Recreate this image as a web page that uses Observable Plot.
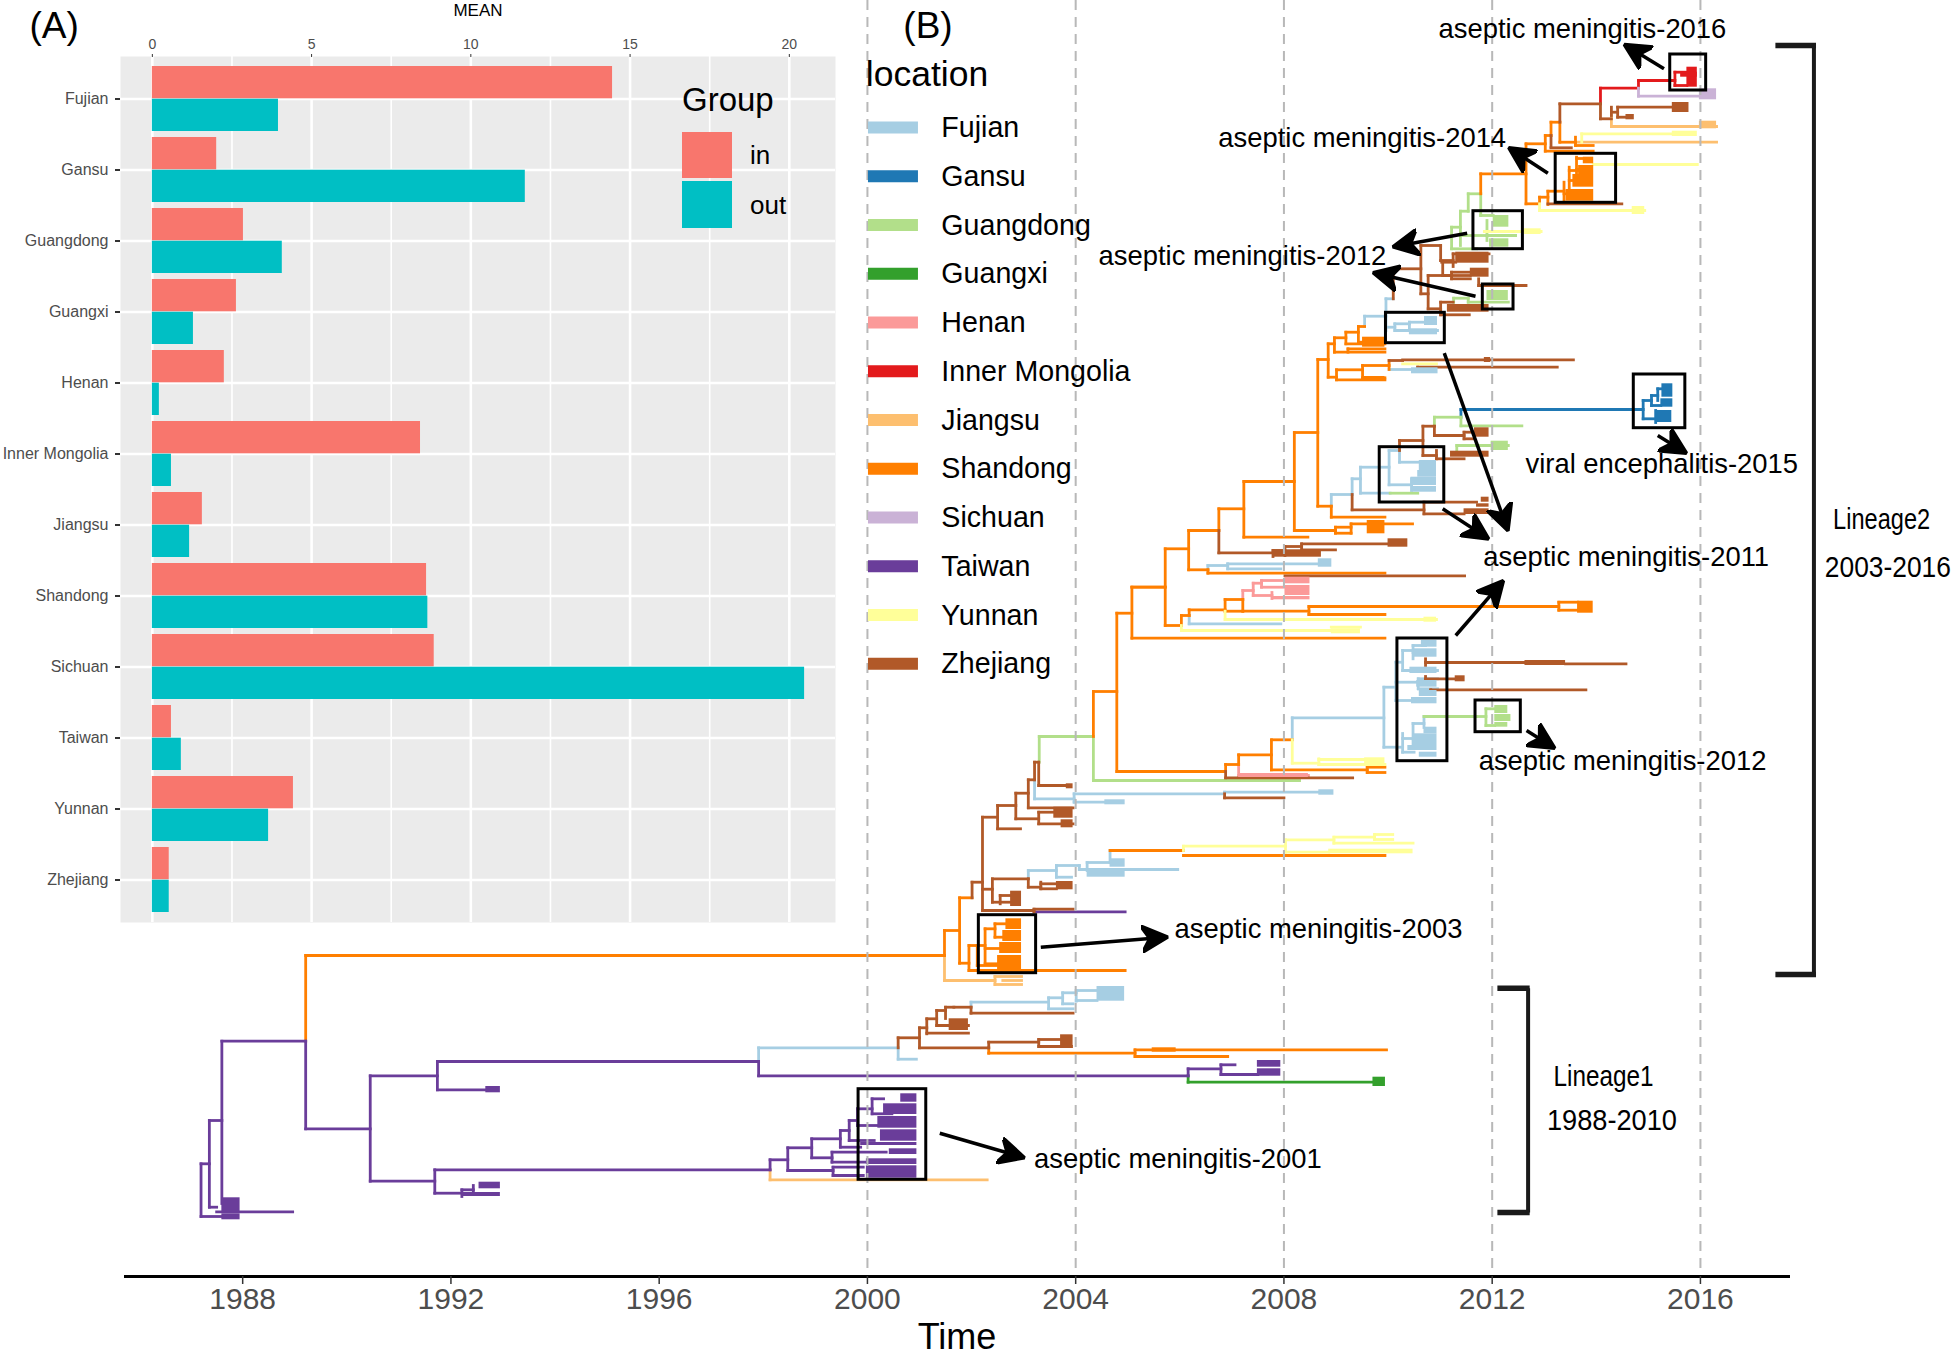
<!DOCTYPE html>
<html><head><meta charset="utf-8">
<script src="https://cdn.jsdelivr.net/npm/d3@7"></script>
<script src="https://cdn.jsdelivr.net/npm/@observablehq/plot@0.6"></script>
<style>
html,body{margin:0;padding:0;background:#fff;font-family:"Liberation Sans",Arial,sans-serif}
#wrap{position:relative;width:1960px;height:1360px;overflow:hidden}
#wrap svg{position:absolute;left:0;top:0;background:transparent}
.lg{position:absolute;color:#000}
</style></head><body><div id="wrap"></div>
<script>
// ---------- panel A values ----------
const locations=["Fujian","Gansu","Guangdong","Guangxi","Henan","Inner Mongolia","Jiangsu","Shandong","Sichuan","Taiwan","Yunnan","Zhejiang"];
const meanIn=[14.45,2.02,2.86,2.64,2.26,8.42,1.57,8.61,8.85,0.6,4.43,0.53];
const meanOut=[3.96,11.71,4.08,1.29,0.22,0.6,1.17,8.65,20.48,0.91,3.65,0.53];
const locationColors=["#A6CEE3","#1F78B4","#B2DF8A","#33A02C","#FB9A99","#E31A1C","#FDBF6F","#FF7F00","#CAB2D6","#6A3D9A","#FFFF99","#B15928"];
const axisYears=[1988,1992,1996,2000,2004,2008,2012,2016];
const gridYears=[2000,2004,2008,2012,2016];

// ---------- tree branches: H=[from,to,row], V=[year,row,row], B=[from,to,row,row] (dense tip bundles) ----------
const fujianH=[[1997.91,2000.59,104.73],[2000.59,2000.94,105.87],[2001.99,2003.48,100.17],[2003.48,2003.95,100.83],[2003.48,2003.75,99.73],[2003.75,2004.01,99.23],[2003.75,2003.95,100.33],[2004.01,2004.41,99],[2004.01,2004.41,100],
[2003.09,2003.63,87],[2003.63,2003.92,87.67],[2003.63,2004.07,86.5],[2004.07,2005.96,86.9],[2004.22,2004.66,86.2],
[2003.21,2003.97,79.83],[2003.97,2006.86,79.33],[2006.86,2008.67,79.17],[2003.97,2004.56,80.17],
[2008.16,2009.92,71.73],[2009.92,2010.28,74.67],[2009.92,2010.15,68.67],[2010.15,2010.48,70],[2010.15,2010.58,68.17],[2010.58,2010.95,67.83],[2010.58,2010.95,68.83],[2010.15,2010.28,66.17],[2010.28,2010.95,67],[2010.28,2010.48,65],[2010.48,2010.72,64.5],[2010.48,2010.72,65.2],[2010.28,2010.5,75.17],[2010.28,2010.48,73.8],[2010.48,2010.67,73.83],[2010.48,2010.69,72.3],
[2006.54,2006.92,56.5],[2006.92,2008.66,56.33],[2006.92,2007.94,56.83],[2006.18,2007.94,62.33],[2010.02,2010.45,36.9],
[2008.91,2009.31,49.4],[2009.31,2009.47,47.83],[2009.47,2010.04,49.27],[2009.47,2010.02,46.67],[2010.02,2010.45,48.43],[2010.02,2010.22,45],[2010.22,2010.69,46.17],
[2009.55,2009.96,31.57],[2009.96,2010.1,29.83],[2009.96,2010.13,32.67],[2010.13,2010.95,33],[2010.13,2010.41,32.33],[2010.41,2010.7,32.17]];
const fujianV=[[1997.91,104.73,106.1],[2000.59,104.73,105.87],[2001.99,100.17,100.67],[2003.48,99.73,100.83],[2003.75,99.23,100.33],[2004.01,99,100.07],
[2003.09,87,87.83],[2003.63,86.5,87.67],[2004.07,86.5,86.9],[2004.22,86.2,87],[2004.66,85,86.2],[2003.21,77.93,79.83],[2003.97,79.33,80.17],[2006.86,79.17,79.33],
[2008.16,71.73,73.93],[2009.92,68.67,74.67],[2010.15,66.17,70],[2010.58,67.83,68.83],[2010.28,65,67],[2010.48,64.5,65.83],[2010.28,73.3,75.17],[2010.48,72.3,74.67],[2010.69,71.6,72.7],
[2006.54,56.5,56.93],[2006.92,56.33,56.83],[2006.18,61.5,62.33],[2008.91,49.4,50.57],[2009.31,47.83,49.4],[2009.47,46.67,49.27],[2010.02,45,48.43],[2010.45,47.83,49],[2010.22,45,46.17],
[2009.55,31.57,32.6],[2009.96,29.83,33],[2010.13,32.33,33],[2010.41,32.17,33]];
const fujianB=[[2004.41,2004.94,98.6,100.07],[2004.22,2004.95,86.83,87.67],[2004.66,2004.95,85.83,86.67],[2008.67,2008.96,78.93,79.47],[2004.56,2004.95,79.93,80.43],
[2010.64,2010.94,64,64.67],[2010.5,2010.94,64.83,65.67],[2010.42,2010.94,66.67,67.3],[2010.55,2010.94,68,68.67],[2010.6,2010.94,69,69.6],[2010.45,2010.94,69.7,70.33],
[2010.69,2010.94,72.67,73.33],[2010.48,2010.94,73.33,74.5],[2010.38,2010.94,74.5,75],[2010.6,2010.94,75.17,75.67],
[2008.66,2008.92,55.83,56.67],[2010.45,2010.96,36.73,37.33],[2010.6,2010.93,46,47],[2010.57,2010.93,47,47.67],[2010.44,2010.93,47.67,48.5],[2010.47,2010.93,48.6,49.17],[2010.7,2010.95,31.6,32.5],[2010.41,2010.95,32.83,33.43]];

const gansuH=[[2011.4,2014.9,40.9],[2014.9,2015.06,40],[2014.9,2015.14,41.83],[2015.06,2015.18,39.5],[2015.06,2015.24,40.5],[2015.18,2015.26,38.83]];
const gansuV=[[2011.4,40.9,41.67],[2014.9,40,41.83],[2015.06,39.5,40.5],[2015.18,38.83,40],[2015.14,41,42.2]];
const gansuB=[[2015.26,2015.47,38.33,39.67],[2015.24,2015.47,39.83,40.67],[2015.14,2015.45,41,42.2]];

const guangdongH=[[2003.3,2004.34,73.6],[2004.34,2008.3,78],[2010.69,2011.7,71.6],[2011.7,2011.88,71.6],[2011.88,2012.05,70.83],[2011.88,2012.05,72.5],[2010.89,2011.4,41.67],[2011.4,2012.57,42.53],[2011.32,2012.31,44.5],[2010.04,2010.57,49.27],
[2011.54,2011.78,19.33],[2011.39,2011.54,21.07],[2011.22,2011.39,22.67],[2011.22,2011.7,24.83],[2011.78,2012.02,21.5],[2011.39,2011.9,23.5],[2011.9,2012.45,23.5],[2011.26,2011.54,29.77],[2011.54,2012.31,30.17]];
const guangdongV=[[2003.3,73.6,76.17],[2004.34,73.6,78],[2011.88,70.83,72.5],[2010.89,41.67,42.57],[2011.4,41.67,42.53],[2011.32,44.5,45],[2011.78,19.33,21.5],[2011.54,19.33,21.07],[2011.39,21.07,24.5],[2011.22,22.67,24.83],[2011.9,22,24],[2011.26,29.77,30.17],[2011.54,29.77,30.17]];
const guangdongB=[[2012.05,2012.3,70.5,71.3],[2012.05,2012.36,71.4,72.1],[2012.05,2012.3,72.2,72.67],[2011.98,2012.31,44.07,45],[2012.02,2012.32,21.5,22.67],[2011.95,2012.32,23.83,24.67],[2011.9,2012.31,29,30]];

const guangxiH=[[2006.16,2009.77,108.17]];
const guangxiV=[[2006.16,107.53,108.17]];
const guangxiB=[[2009.71,2009.95,107.67,108.6]];

const henanH=[[2007.21,2007.41,59],[2007.41,2007.57,58.27],[2007.41,2007.77,59.5],[2007.57,2008.02,58],[2007.57,2008.02,58.67],[2007.13,2008.47,77.5]];
const henanV=[[2007.13,76.4,77.5],[2007.21,59,59.9],[2007.41,58.27,59.5],[2007.57,58,58.67],[2007.77,59.2,59.8]];
const henanB=[[2008.02,2008.5,57.67,58.33],[2008.02,2008.5,58.5,59.5],[2007.77,2008.5,59.6,59.93],[2007.13,2008.47,77.3,77.7]];

const mongoliaH=[[2014.08,2014.81,8.77],[2014.81,2015.51,8],[2015.51,2015.74,7.17],[2015.51,2015.74,8.5]];
const mongoliaV=[[2014.08,8.77,10.33],[2014.81,8,8.77],[2015.51,7.17,8.5]];
const mongoliaB=[[2015.74,2015.94,6.67,8.67],[2015.62,2015.94,7.17,7.67]];

const jiangsuH=[[1998.13,2002.3,117.93],[2001.48,2002.45,98],[2002.45,2002.96,97.6],[2002.45,2002.96,98.4],[2002.6,2002.96,98],[2014.29,2016.31,12.6],[2013.6,2016.31,14.17]];
const jiangsuV=[[1998.13,116.93,117.93],[2001.48,95.5,98],[2002.45,97.6,98.4],[2014.29,11.5,12.6]];
const jiangsuB=[[2015.98,2016.31,12.07,12.83]];

const shandongH=[[1989.21,2001.48,95.5],[2001.48,2001.77,93],[2001.77,2002.01,89.73],[2001.77,2001.95,96.27],[2001.95,2004.95,97],[2001.95,2002.11,94.5],[2002.11,2002.26,94.5],[2002.26,2002.45,92.83],[2002.45,2002.7,92.33],[2002.26,2002.55,96.33],[2002.45,2002.65,93.67],[2002.26,2002.6,94.8],[2002.11,2002.55,96.5],
[2002.33,2005.14,105.27],[2005.14,2009.97,104.93],[2005.14,2006.92,105.6],[2004.34,2004.79,69.1],[2004.79,2006.88,77.1],[2004.79,2005.08,61.27],[2005.08,2009.94,63.77],[2005.08,2005.72,58.67],[2005.72,2006.03,62.5],[2006.03,2006.18,61.5],[2006.18,2006.87,60.93],[2006.87,2007.21,59.9],[2006.87,2007.21,61.07],[2007.21,2008.48,61.07],[2008.48,2013.28,60.6],[2008.48,2009.94,61.4],[2013.28,2013.64,60.17],[2013.28,2013.64,60.97],
[2005.72,2006.17,54.83],[2006.17,2006.54,56.93],[2006.54,2009.94,57.27],[2006.17,2006.75,53],[2006.75,2007.23,50.83],[2007.23,2008.46,53.67],[2007.23,2008.2,48.1],[2008.2,2008.99,53],[2008.99,2009.29,52.67],[2008.99,2009.29,53.27],[2009.29,2010.47,52.33],[2008.2,2008.65,43.2],[2008.65,2008.91,50.57],[2008.91,2009.94,51.67],
[2008.65,2008.85,35.9],[2008.85,2009.01,37.67],[2009.01,2009.94,37.93],[2009.01,2009.51,36.93],[2009.51,2009.94,37.73],[2009.51,2010.02,36.5],[2008.85,2008.97,34.33],[2008.97,2009.94,35.17],[2009.23,2009.94,34.83],[2008.97,2009.19,33.73],[2009.19,2009.94,34.33],[2009.19,2009.43,33.17],[2009.43,2009.55,32.6],[2009.43,2009.51,34.17],
[2011.78,2012.65,17.33],[2012.65,2012.91,20.33],[2012.91,2013.07,19.67],[2013.07,2013.38,19.07],[2013.38,2013.48,19.33],[2013.48,2013.64,18],[2013.62,2013.76,15.8],[2013.62,2013.76,16.9],[2013.48,2013.64,17],[2012.65,2013.02,14.33],[2013.02,2013.94,15.07],[2013.02,2013.13,13.5],[2013.13,2013.3,12.17],[2013.3,2013.6,14.17],[2013.6,2013.94,14.5],
[2006.88,2007.13,76.4],[2007.13,2007.76,75.43],[2007.76,2009.6,76.93],[2007.76,2008.16,73.93],[2009.6,2009.94,76.67],[2009.6,2009.94,77.2],[2004.66,2006.07,85],[2006.07,2009.94,85.5],[2005.08,2005.72,58.67]];
const shandongV=[[1989.21,95.5,104.07],[2001.48,93,95.5],[2001.77,89.73,96.27],[2001.95,94.5,97],[2002.11,94.5,96.5],[2002.26,92.83,96.33],[2002.45,92.33,93.67],[2002.7,92,92.5],[2002.33,104.73,105.27],[2005.14,104.93,105.6],[2004.34,69.1,73.6],[2004.79,61.27,77.1],[2005.08,58.67,63.77],[2005.72,54.83,62.5],[2006.03,61.5,62.5],[2006.18,60.93,61.5],[2006.87,59.9,61.07],[2007.21,59.9,61.07],[2008.48,60.6,61.4],[2013.28,60.17,60.97],
[2006.17,53,56.93],[2006.54,56.93,57.27],[2006.75,50.83,53],[2007.23,48.1,53.67],[2008.2,43.2,53],[2008.99,52.67,53.27],[2009.29,52.33,53.27],[2008.65,35.9,50.57],[2008.91,50.57,51.67],[2008.85,34.33,37.67],[2009.01,36.93,37.93],[2009.51,36.5,37.73],[2010.02,36,36.9],[2008.97,33.73,35.17],[2009.23,34.83,35.17],[2009.19,33.17,34.33],[2009.43,32.6,34.17],
[2011.78,17.33,19.33],[2012.65,14.33,20.33],[2012.91,19.67,20.33],[2013.07,19.07,20.4],[2013.38,18.17,20],[2013.48,16.67,19.33],[2013.62,15.67,18],[2013.02,13.5,15.07],[2013.13,12.17,13.5],[2013.3,12.17,14.17],[2013.6,13.67,14.5],[2006.88,76.4,77.1],[2007.13,75.43,76.4],[2007.76,73.93,76.93],[2009.6,76.67,77.2]];
const shandongB=[[2002.66,2002.96,91.83,92.9],[2002.6,2002.96,93,94.1],[2002.54,2002.96,94.2,95.3],[2002.5,2002.96,95.5,96.9],[2005.47,2005.93,104.73,105.17],[2013.64,2013.94,60.07,61.27],[2009.6,2009.94,52,53.33],[2009.51,2009.94,33.67,34.67],[2009.51,2009.94,37.6,38],[2013.75,2013.95,15.67,16.33],[2013.66,2013.95,16.5,17.4],[2013.55,2013.95,17.4,18.67],[2013.42,2013.95,18.9,20.07]];

const sichuanH=[[2014.81,2015.98,9.57]];
const sichuanV=[[2014.81,8.77,9.57]];
const sichuanB=[[2015.98,2016.31,8.83,9.93]];

const taiwanH=[[1987.6,1989.21,104.07],[1987.36,1987.6,112],[1987.2,1987.36,116.33],[1987.2,1987.64,121.6],[1987.36,1987.5,120.67],[1987.5,1988.96,121.13],[1989.21,1990.45,112.83],[1990.45,1991.74,107.53],[1991.74,1997.91,106.1],[1991.74,1992.67,108.93],[1997.91,2006.16,107.53],[1990.45,1991.69,118.07],[1991.69,1998.13,116.93],[1991.69,1992.21,119.27],[1992.21,1992.43,118.93],
[1998.13,1998.47,115.93],[1998.47,1998.93,114.73],[1998.47,1999.34,117],[1999.34,1999.92,116.67],[1999.34,1999.92,117.5],[1998.93,1999.48,113.83],[1998.93,1999.32,115.73],[1999.32,2000.36,115.17],[1999.32,2000,116.17],[1999.48,1999.87,114.67],[1999.48,1999.65,113],[1999.65,1999.81,112],[1999.65,2000.13,114],[1999.81,2000.09,110.83],[1999.81,2000.2,112.5],[2000.09,2000.31,109.83],[2000.09,2000.47,111.33],
[2006.16,2006.79,106.83],[2006.79,2007.06,106.43],[2006.79,2007.5,107.4],[2003.2,2004.95,91.13]];
const taiwanV=[[1987.6,104.07,120.3],[1987.36,112,120.67],[1987.2,116.33,121.6],[1989.21,104.07,112.83],[1990.45,107.53,118.07],[1991.74,106.1,108.93],[1997.91,106.1,107.53],[1991.69,116.93,119.27],[1992.21,118.93,119.6],[1992.43,118.5,119.33],[1998.13,115.93,116.93],[1998.47,114.73,117],[1999.34,116.67,117.5],[1998.93,113.83,115.73],[1999.32,115.17,116.17],[1999.48,113,114.67],[1999.65,112,114],[1999.81,110.83,112.5],[2000.09,109.83,111.33],[2006.16,106.83,107.53],[2006.79,106.43,107.4]];
const taiwanB=[[1987.6,1987.95,119.73,121.17],[1987.6,1987.95,121.33,121.93],[1992.67,1992.95,108.6,109.23],[1992.54,1992.95,118.17,118.83],[1992.21,1992.95,119.2,119.6],
[2000.64,2000.95,109.33,110.17],[2000.31,2000.95,110.33,111.4],[2000.2,2000.95,111.6,112.77],[2000.25,2000.95,112.93,114.07],[1999.87,2000.95,114.2,114.5],[2000.42,2000.95,114.83,115.4],[1999.98,2000.95,115.83,116.4],[1999.98,2000.95,116.53,117.77],[2007.49,2007.94,106,106.67],[2007.49,2007.94,106.83,107.57]];

const yunnanH=[[2006.07,2008.03,84.57],[2008.03,2008.96,83.93],[2008.96,2009.74,83.67],[2009.74,2010.09,83.4],[2009.74,2010.09,83.9],[2008.96,2010.48,84.27],[2008.03,2008.86,85.17],[2008.16,2008.67,76.27],[2008.67,2009.55,75.9],[2008.67,2009.94,76.4],[2006.87,2010.93,61.9],[2006.03,2008.91,63],[2008.91,2009.47,62.67],[2010.28,2010.93,36.33],[2012.91,2014.93,21],[2013.94,2015.94,16.4],[2013.72,2015.46,13.33],[2011.85,2012.94,23.1]];
const yunnanV=[[2006.07,84.57,85],[2008.03,83.93,85.17],[2008.96,83.67,84.27],[2009.74,83.4,83.9],[2008.16,73.93,76.27],[2008.67,75.83,76.4],[2006.87,61.07,61.9],[2006.03,62.5,63],[2012.91,20.33,21],[2013.72,13.33,14.17]];
const yunnanB=[[2008.86,2010.48,84.87,85.33],[2009.55,2009.94,75.73,76.53],[2010.69,2010.93,61.67,62.17],[2008.91,2009.47,62.83,63.33],[2014.69,2014.93,20.6,21.4],[2015.46,2015.94,13.07,13.6],[2012.62,2012.94,22.83,23.4]];

const zhejiangH=[[2002.01,2002.21,88.17],[2002.21,2003.2,91],[2003.2,2003.95,90.87],[2002.21,2002.4,88.87],[2002.4,2003.09,87.83],[2002.4,2002.75,90.17],[2002.55,2002.75,89.5],[2003.09,2003.33,88.67],[2003.33,2003.63,88.33],[2003.33,2003.63,88.83],[2002.21,2002.5,81.67],[2002.5,2002.94,82.83],[2002.5,2002.85,80.5],[2002.85,2003.29,81.83],[2003.29,2003.95,82.33],[2003.29,2003.58,81.17],[2002.85,2003.09,79.27],[2003.09,2003.95,80.73],[2003.09,2003.21,77.93],[2003.21,2003.29,76.17],[2003.29,2003.87,78.5],
[2000.59,2001,103.73],[2001,2002.33,104.73],[2002.33,2003.29,104.17],[2003.29,2003.71,103.9],[2003.29,2003.92,104.6],[2001,2001.14,102.73],[2001.14,2001.94,103.27],[2001.14,2001.33,101.83],[2001.33,2001.94,102.5],[2001.33,2001.5,101],[2001.5,2001.66,100.67],[2001.66,2001.99,100.67],[2001.99,2003.95,101.27],
[2006.75,2007.79,55.23],[2007.79,2008.02,55],[2008.02,2008.34,54.6],[2008.34,2010,54.33],[2008.34,2008.99,54.93],[2009.31,2010.69,50.93],[2010.69,2011.7,50.17],[2010.69,2011.46,51.33],[2010.22,2010.67,44],[2010.67,2010.93,45.5],[2010.93,2011.46,45.83],[2010.67,2010.89,42.57],[2010.89,2011.46,43.5],[2011.46,2011.66,43.17],[2011.46,2011.66,43.83],
[2010.02,2010.28,36],[2010.28,2013.56,35.93],[2010.57,2013.25,36.67],[2010.72,2012.63,66.2],[2013.41,2014.57,66.33],[2010.72,2011.29,67.83],[2010.82,2013.8,68.93],[2006.88,2009.32,77.73],[2006.86,2008,79.73],[2008.02,2011.47,57.53],
[2013.3,2014.08,10.33],[2014.08,2014.29,11.83],[2014.41,2015.46,10.67],[2014.29,2014.41,11.17],[2014.41,2014.61,11.67],[2013.13,2013.52,14.73],[2013.07,2014.49,20.33],
[2010.1,2010.63,26.83],[2010.63,2011.01,24.5],[2011.01,2011.25,26],[2011.25,2011.94,25.33],[2011.03,2011.3,26.17],[2011.05,2011.58,27.5],[2010.77,2011.22,27.5],[2011.22,2011.58,27.17],[2011.22,2011.58,27.83],[2011.74,2012.65,28.5],[2010.63,2010.77,29.33],[2010.77,2011.01,30.83],[2011.01,2011.25,30.17],[2011.01,2011.56,31.43]];
const zhejiangV=[[2002.01,88.17,89.73],[2002.21,81.67,91],[2002.4,87.83,90.17],[2002.55,89.5,90.33],[2003.09,87.83,88.67],[2003.33,88.17,88.83],[2002.5,80.5,82.83],[2002.85,79.27,81.83],[2003.29,81.17,82.33],[2003.09,77.93,80.73],[2003.21,76.17,77.93],[2003.29,76.17,78.5],
[2000.59,103.73,104.73],[2001,102.73,104.73],[2002.33,104.17,104.73],[2003.29,103.9,104.6],[2001.14,101.83,103.33],[2001.33,101,102.5],[2001.5,100.67,101.8],[2001.99,100.67,101.27],
[2006.75,53,55.23],[2007.79,55,55.6],[2008.02,54.6,55.5],[2008.34,54.33,54.93],[2009.31,49.4,50.93],[2010.69,50.17,51.33],[2010.22,44,45],[2010.67,42.57,45.5],[2010.93,45,45.83],[2010.89,42.57,43.5],[2011.46,43.17,43.83],[2010.57,36.67,37],[2010.72,65.83,66.5],[2010.72,67.6,68],[2010.82,68.93,69.3],[2006.88,77.1,77.73],[2006.86,79.33,79.73],[2003.2,90.87,91.13],
[2013.3,10.33,12.17],[2013.13,13.5,14.67],[2014.08,10.33,11.83],[2014.29,10.67,11.5],[2014.41,10.67,11.67],
[2010.1,26.83,29.83],[2010.63,24.5,29.33],[2011.01,24.5,26],[2011.25,25.33,26.6],[2011.05,26.17,27.5],[2010.77,27.5,30.83],[2011.22,27.17,27.83],[2011.74,27.83,28.5],[2011.01,30.17,31.43]];
const zhejiangB=[[2002.75,2002.96,89.07,90.6],[2003.63,2003.95,88.1,88.93],[2003.58,2003.95,80.67,81.77],[2003.72,2003.95,81.93,82.73],[2003.82,2003.95,78.33,78.83],[2003.71,2003.95,103.43,104.6],[2001.57,2001.94,101.83,103],[2007.79,2008.72,54.93,55.67],[2010,2010.38,53.83,54.67],[2011.46,2011.94,50.83,51.4],[2011.79,2011.94,49.67,50.17],[2011.7,2011.94,50.33,50.67],[2011.2,2011.94,45.07,45.67],[2011.66,2011.94,42.73,43.67],[2011.85,2011.97,35.7,36.2],[2012.63,2013.41,66,66.5],[2011.29,2011.48,67.53,68.13],[2014.57,2014.73,11.4,11.93],[2015.46,2015.78,10.2,11.2],[2011.3,2011.94,25.17,26.27],[2011.58,2011.94,26.77,27.67],[2011.14,2011.94,30.4,31.17]];

// ---------- annotation boxes [from,to,row,row] ----------
const boxes=[[2015.42,2016.11,5.4,9],[2013.22,2014.38,15.33,20.23],[2011.64,2012.59,21.07,24.87],[2011.82,2012.41,28.4,30.9],[2009.96,2011.09,31.23,34.27],[2014.72,2015.71,37.4,42.77],[2009.84,2011.08,44.67,50.2],[2010.18,2011.14,63.8,76.07],[2011.68,2012.55,70,73.17],[2002.14,2003.24,91.47,97.27],[1999.83,2001.13,108.87,117.93]];
// arrows [fromYear,fromRow,toYear,toRow]
const arrows=[[2015.3,6.83,2014.57,4.5],[2013.07,17.27,2012.35,14.83],[2011.52,23.27,2010.13,24.6],[2011.68,29.57,2009.75,27.27],[2011.08,35.27,2012.29,52.83],[2011.05,50.83,2011.9,53.73],[2011.3,63.5,2012.19,58.17],[2015.18,43.5,2015.7,45.17],[2012.66,73,2013.17,74.67],[2003.33,94.67,2005.73,93.67],[2001.39,113.27,2002.98,115.67]];
const noteText=["aseptic meningitis-2016","aseptic meningitis-2014","aseptic meningitis-2012","viral encephalitis-2015","aseptic meningitis-2011","aseptic meningitis-2012","aseptic meningitis-2003","aseptic meningitis-2001"];
const noteYear=[2010.97,2006.74,2004.44,2012.64,2011.83,2011.74,2005.9,2003.2];
const noteRow=[2.9,13.75,25.6,46.4,55.7,76.1,92.9,115.9];
const lineageText=["Lineage2","2003-2016","Lineage1","1988-2010"];
const lineageYear=[2019.48,2019.6,2014.14,2014.3];
const lineageRow=[51.9,56.7,107.6,112];
const bracketV=[[2018.18,4.5,97.4],[2012.69,98.77,121.2]];
const bracketH=[[2017.44,2018.22,4.5],[2017.44,2018.22,97.4],[2012.1,2012.72,98.77],[2012.1,2012.72,121.2]];

// ---------- build tables ----------
const H={Fujian:fujianH,Gansu:gansuH,Guangdong:guangdongH,Guangxi:guangxiH,Henan:henanH,"Inner Mongolia":mongoliaH,Jiangsu:jiangsuH,Shandong:shandongH,Sichuan:sichuanH,Taiwan:taiwanH,Yunnan:yunnanH,Zhejiang:zhejiangH};
const V={Fujian:fujianV,Gansu:gansuV,Guangdong:guangdongV,Guangxi:guangxiV,Henan:henanV,"Inner Mongolia":mongoliaV,Jiangsu:jiangsuV,Shandong:shandongV,Sichuan:sichuanV,Taiwan:taiwanV,Yunnan:yunnanV,Zhejiang:zhejiangV};
const B={Fujian:fujianB,Gansu:gansuB,Guangdong:guangdongB,Guangxi:guangxiB,Henan:henanB,"Inner Mongolia":mongoliaB,Jiangsu:jiangsuB,Shandong:shandongB,Sichuan:sichuanB,Taiwan:taiwanB,Yunnan:yunnanB,Zhejiang:zhejiangB};
const branches=locations.flatMap(loc=>[
  ...H[loc].map(([a,b,r])=>({loc,x1:a,x2:b,y1:r,y2:r})),
  ...V[loc].map(([x,a,b])=>({loc,x1:x,x2:x,y1:a,y2:b}))]);
const bundles=locations.flatMap(loc=>B[loc].map(([a,b,r,s])=>({loc,x1:a,x2:b,y1:r,y2:s})));
const rowOf=i=>12.75+i*4.875;
const legendRows=locations.map((loc,i)=>({loc,row:rowOf(i)}));

const arrowHead=(color)=>{
  const ns="http://www.w3.org/2000/svg";
  const m=document.createElementNS(ns,"marker");
  m.setAttribute("viewBox","-24 -14 28 28");
  m.setAttribute("markerWidth","28");m.setAttribute("markerHeight","28");
  m.setAttribute("markerUnits","userSpaceOnUse");m.setAttribute("orient","auto");
  m.setAttribute("refX","0");m.setAttribute("refY","0");
  const p=document.createElementNS(ns,"path");
  p.setAttribute("d","M-24,-13L2,0L-24,13L-16,0Z");p.setAttribute("fill",color);
  m.appendChild(p);return m;
};
const font="Liberation Sans";

const tree=Plot.plot({
  width:1960,height:1360,marginLeft:124,marginRight:170,marginTop:0,marginBottom:84,
  style:{fontFamily:font,background:"transparent"},
  x:{domain:[1985.73,2017.73],axis:null},
  y:{domain:[0,127.6],range:[0,1276],axis:null},
  color:{domain:locations,range:locationColors},
  marks:[
    Plot.link(branches,{x1:"x1",x2:"x2",y1:"y1",y2:"y2",stroke:"loc",strokeWidth:2.8,strokeLinecap:"square"}),
    Plot.rect(bundles,{x1:"x1",x2:"x2",y1:"y1",y2:"y2",fill:"loc"}),
    Plot.ruleX(gridYears,{y1:0,y2:127.6,stroke:"#b8b8b8",strokeWidth:2,strokeDasharray:"10,7"}),
    Plot.rect(boxes,{x1:d=>d[0],x2:d=>d[1],y1:d=>d[2],y2:d=>d[3],fill:"none",stroke:"black",strokeWidth:3}),
    Plot.link(arrows,{x1:d=>d[0],y1:d=>d[1],x2:d=>d[2],y2:d=>d[3],stroke:"black",strokeWidth:3.5,markerEnd:arrowHead}),
    Plot.text(noteText,{x:(d,i)=>noteYear[i],y:(d,i)=>noteRow[i],text:d=>d,textAnchor:"start",fontSize:27.4,fill:"black"}),
    Plot.text(lineageText,{x:(d,i)=>lineageYear[i],y:(d,i)=>lineageRow[i],text:d=>d,fontSize:29,fill:"black",className:"lineage"}),
    Plot.link(bracketV,{x1:d=>d[0],x2:d=>d[0],y1:d=>d[1],y2:d=>d[2],stroke:"#1a1a1a",strokeWidth:4}),
    Plot.link(bracketH,{x1:d=>d[0],x2:d=>d[1],y1:d=>d[2],y2:d=>d[2],stroke:"#1a1a1a",strokeWidth:5.5}),
    // legend of location
    Plot.text(["location"],{x:1999.97,y:7.4,text:d=>d,textAnchor:"start",fontSize:35.5,fill:"black"}),
    Plot.rect(legendRows,{x1:2000.02,x2:2000.98,y1:d=>d.row-0.6,y2:d=>d.row+0.6,fill:"loc"}),
    Plot.text(legendRows,{x:2001.42,y:"row",text:"loc",textAnchor:"start",fontSize:28.6,fill:"black"}),
    Plot.text(["(B)"],{x:2000.69,y:2.6,text:d=>d,textAnchor:"start",fontSize:37,fill:"black"}),
    // axis
    Plot.ruleY([127.6],{stroke:"black",strokeWidth:3}),
    Plot.axisX({ticks:axisYears,tickFormat:d3.format("d"),tickSize:8,tickPadding:3,fontSize:30,fill:"#4d4d4d",stroke:"#333",strokeWidth:1.5,label:null}),
    Plot.text(["Time"],{x:2001.72,y:133.7,text:d=>d,fontSize:36,fill:"black"})
  ]
});
// the lineage labels are horizontally condensed in the source figure
const lineageWidths=[97,126,100,130];
d3.select(tree).selectAll(".lineage text").attr("lengthAdjust","spacingAndGlyphs").attr("textLength",(d,i)=>lineageWidths[i]);

const groupRows=[...locations.map((loc,i)=>({loc,group:"in",v:meanIn[i]})),...locations.map((loc,i)=>({loc,group:"out",v:meanOut[i]}))];
const bars=Plot.plot({
  width:860,height:950,marginLeft:120,marginRight:25,marginTop:56,marginBottom:28,
  style:{fontFamily:font,background:"transparent"},
  x:{domain:[-1,21.45],axis:null},
  y:{type:"band",domain:locations,paddingInner:0.08,paddingOuter:0.13,axis:null},
  marks:[
    Plot.frame({fill:"#EBEBEB",stroke:null}),
    Plot.ruleX([2.5,7.5,12.5,17.5],{stroke:"white",strokeWidth:1.6}),
    Plot.ruleX([0,5,10,15,20],{stroke:"white",strokeWidth:2.6}),
    Plot.ruleY(locations,{y:d=>d,stroke:"white",strokeWidth:2.6}),
    Plot.barX(groupRows.filter(d=>d.group==="in"),{x:"v",y:"loc",fill:"#F8766D",insetBottom:32.7}),
    Plot.barX(groupRows.filter(d=>d.group==="out"),{x:"v",y:"loc",fill:"#00BFC4",insetTop:32.7}),
    Plot.axisX({anchor:"top",ticks:[0,5,10,15,20],tickSize:3,tickPadding:5,fontSize:14,fill:"#4d4d4d",stroke:"#333",label:null}),
    Plot.axisY({tickSize:5,tickPadding:7,fontSize:16,fill:"#4d4d4d",stroke:"#333",strokeWidth:2,label:null}),
    Plot.text(["MEAN"],{frameAnchor:"top",dy:-53,text:d=>d,fontSize:17,fill:"black"}),
    Plot.text(["(A)"],{frameAnchor:"top-left",dx:-91,dy:-45,text:d=>d,fontSize:37,fill:"black",textAnchor:"start"})
  ]
});
const wrap=document.getElementById("wrap");
wrap.appendChild(tree);wrap.appendChild(bars);
// legend of panel A, added over the panel as page elements
const addBox=(l,t,w,h,c)=>{const e=document.createElement("div");e.className="lg";e.style.cssText=`left:${l}px;top:${t}px;width:${w}px;height:${h}px;background:${c}`;wrap.appendChild(e);};
const addText=(l,cy,s,txt)=>{const e=document.createElement("div");e.className="lg";e.style.cssText=`left:${l}px;top:${cy-s*0.6}px;font-size:${s}px;line-height:${s*1.2}px`;e.textContent=txt;wrap.appendChild(e);};
addText(682,100,33,"Group");
addBox(682,132,50,46,"#F8766D");addBox(682,181,50,47,"#00BFC4");
addText(750,156,26,"in");addText(750,206,26,"out");
</script></body></html>
